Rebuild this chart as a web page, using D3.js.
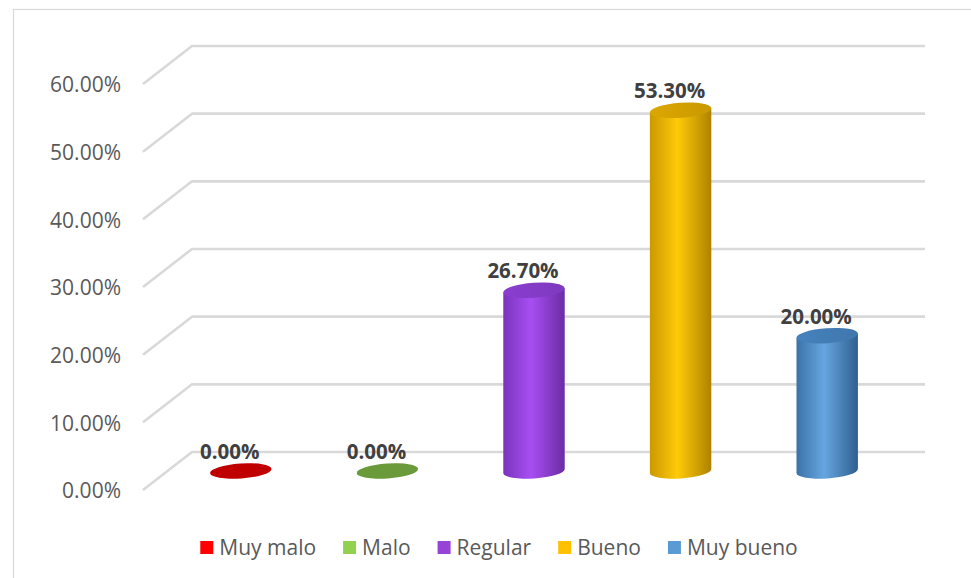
<!DOCTYPE html>
<html>
<head>
<meta charset="utf-8">
<script src="https://cdn.jsdelivr.net/npm/d3@7"></script>
<style>
  html, body { margin: 0; padding: 0; background: #fff; }
  svg { display: block; }
</style>
</head>
<body>
<svg id="chart" width="971" height="578"></svg>
<script>
// Survey result shares by rating
const categories = ["Muy malo", "Malo", "Regular", "Bueno", "Muy bueno"];
const values = [0.0, 0.0, 0.267, 0.533, 0.20];
const yTicks = [0, 0.1, 0.2, 0.3, 0.4, 0.5, 0.6];

// Palette: legend swatch, cylinder edge/mid/edge shades, top cap
const palette = {
  "Muy malo":  { swatch: "#FF0000", dark: "#A00000", light: "#D00000", dark2: "#900000", cap: "#C00000" },
  "Malo":      { swatch: "#92D050", dark: "#5E8A33", light: "#78B046", dark2: "#557D2E", cap: "#6B9A3B" },
  "Regular":   { swatch: "#9544D6", dark: "#7A35BC", light: "#A84EF3", dark2: "#6A2CA4", cap: "#8A3ED0" },
  "Bueno":     { swatch: "#FFC000", dark: "#CC9800", light: "#FFCA08", dark2: "#AE8200", cap: "#DCA700" },
  "Muy bueno": { swatch: "#5B9BD5", dark: "#3B72A8", light: "#66A6E0", dark2: "#2F5F8E", cap: "#4682BD" }
};

const svg = d3.select("#chart");
const fontFamily = "'Open Sans', 'Liberation Sans', sans-serif";

// Plot geometry (mid-depth plane) and 3D depth offset
const depthDX = 24.5, depthDY = -19;
const x = d3.scaleBand().domain(categories).range([167.5, 900.5]).paddingInner(0.58).paddingOuter(0.29);
const y = d3.scaleLinear().domain([0, 0.6]).range([471, 65]);

// Chart frame
svg.append("rect")
  .attr("x", 13.5).attr("y", 9.5)
  .attr("width", 1000).attr("height", 1000)
  .attr("fill", "none").attr("stroke", "#d9d9d9").attr("stroke-width", 1.2);

const defs = svg.append("defs");
defs.append("filter").attr("id", "soft")
  .attr("x", "-5%").attr("y", "-50%").attr("width", "110%").attr("height", "200%")
  .append("feGaussianBlur").attr("stdDeviation", 0.6);

// Gridlines: front-left diagonal up to back wall, then along the back wall
const xLeftFront = x.range()[0] - depthDX;
const xRightBack = x.range()[1] + depthDX;
const grid = svg.append("g").attr("filter", "url(#soft)");
grid.selectAll("path").data(yTicks).join("path")
  .attr("d", t => {
    const yf = y(t) - depthDY, yb = y(t) + depthDY;
    return `M${xLeftFront},${yf} L${x.range()[0] + depthDX},${yb} L${xRightBack},${yb}`;
  })
  .attr("fill", "none").attr("stroke", "#d9d9d9").attr("stroke-width", 2.6)
  .attr("stroke-linejoin", "round");

// Value axis labels at the front edge
svg.append("g").selectAll("text").data(yTicks).join("text")
  .attr("x", 121).attr("y", t => y(t) - depthDY + 1)
  .attr("dy", "0.35em")
  .attr("text-anchor", "end")
  .attr("font-family", fontFamily).attr("font-size", 21)
  .attr("fill", "#595959")
  .text(d3.format(".2%"));

// Gradients for cylinder bodies and caps
categories.forEach((c, i) => {
  const p = palette[c];
  const g = defs.append("linearGradient").attr("id", "body" + i)
    .attr("x1", "0%").attr("x2", "100%").attr("y1", "0%").attr("y2", "0%");
  g.append("stop").attr("offset", "0%").attr("stop-color", p.dark);
  g.append("stop").attr("offset", "45%").attr("stop-color", p.light);
  g.append("stop").attr("offset", "100%").attr("stop-color", p.dark2);
  const cg = defs.append("linearGradient").attr("id", "cap" + i)
    .attr("x1", "0%").attr("x2", "100%").attr("y1", "0%").attr("y2", "0%");
  cg.append("stop").attr("offset", "0%").attr("stop-color", p.cap);
  cg.append("stop").attr("offset", "100%").attr("stop-color", d3.color(p.cap).darker(0.25));
});

// Cylinders
const rx = x.bandwidth() / 2, ry = 7.5, tilt = -4;
const phi = tilt * Math.PI / 180;
const pt = (cx, cy, theta) => [
  cx + rx * Math.cos(theta) * Math.cos(phi) - ry * Math.sin(theta) * Math.sin(phi),
  cy + rx * Math.cos(theta) * Math.sin(phi) + ry * Math.sin(theta) * Math.cos(phi)
];

const bars = svg.append("g");
categories.forEach((c, i) => {
  const v = values[i];
  const cx = x(c) + x.bandwidth() / 2;
  const yb = y(0), yt = y(v);
  const g = bars.append("g");
  if (v > 0) {
    const bl = pt(cx, yb, Math.PI), br = pt(cx, yb, 0);
    const tl = pt(cx, yt, Math.PI), tr = pt(cx, yt, 0);
    g.append("path")
      .attr("d", `M${bl} L${tl} L${tr} L${br} A${rx},${ry} ${tilt} 0 1 ${bl} Z`)
      .attr("fill", `url(#body${i})`);
  }
  g.append("ellipse")
    .attr("cx", cx).attr("cy", yt).attr("rx", rx).attr("ry", ry)
    .attr("transform", `rotate(${tilt},${cx},${yt})`)
    .attr("fill", v > 0 ? `url(#cap${i})` : palette[c].cap);
});

// Data labels
svg.append("g").selectAll("text").data(categories).join("text")
  .attr("x", c => x(c) + x.bandwidth() / 2 - 11)
  .attr("y", (c, i) => y(values[i]) - 12)
  .attr("text-anchor", "middle")
  .attr("font-family", fontFamily).attr("font-size", 20.5).attr("font-weight", "bold")
  .attr("fill", "#404040")
  .text((c, i) => d3.format(".2%")(values[i]));

// Legend, centred under the plot
const legend = svg.append("g");
const items = legend.selectAll("g").data(categories).join("g");
items.append("rect").attr("width", 13).attr("height", 13).attr("y", -13)
  .attr("fill", c => palette[c].swatch);
items.append("text").attr("x", 19).attr("y", 1)
  .attr("font-family", fontFamily).attr("font-size", 21)
  .attr("fill", "#595959").text(c => c);
let cursor = 0;
items.each(function () {
  const w = 19 + d3.select(this).select("text").node().getComputedTextLength();
  d3.select(this).attr("transform", `translate(${cursor},554)`);
  cursor += w + 27;
});
const legendWidth = cursor - 27;
legend.attr("transform", `translate(${499 - legendWidth / 2},0)`);
</script>
</body>
</html>
